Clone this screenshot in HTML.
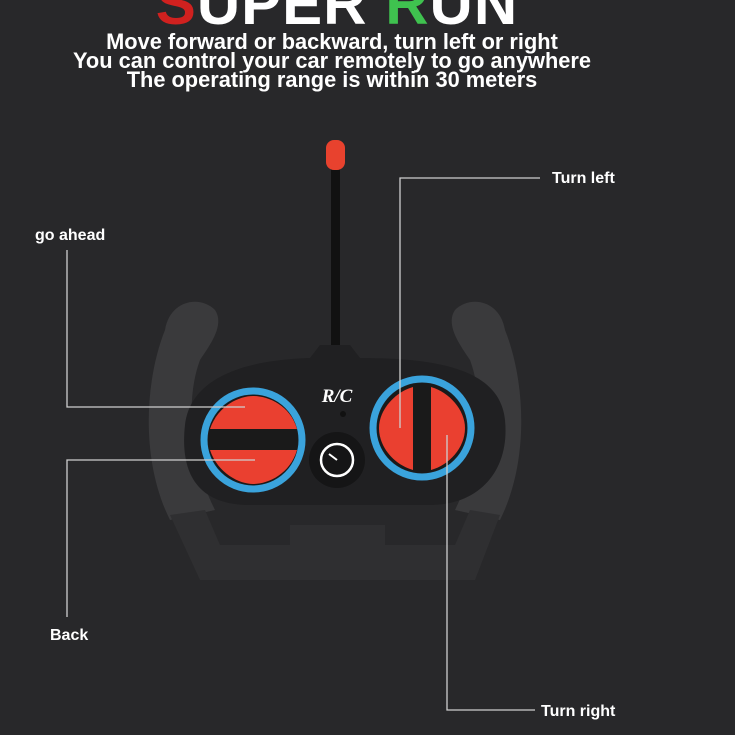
<!DOCTYPE html>
<html><head><style>
html,body{margin:0;padding:0;background:#28282a;}
svg{display:block;font-family:"Liberation Sans",sans-serif;}
</style></head><body>
<svg width="735" height="735" viewBox="0 0 735 735">
<rect width="735" height="735" fill="#28282a"/>
<text x="337" y="24" text-anchor="middle" font-size="60" font-weight="bold" fill="#fff" letter-spacing="1"><tspan fill="#d0211f">S</tspan>UPER <tspan fill="#3fc24f">R</tspan>UN</text>
<g font-size="21.8" font-weight="bold" fill="#fff" text-anchor="middle">
<text x="332" y="49">Move forward or backward, turn left or right</text>
<text x="332" y="68">You can control your car remotely to go anywhere</text>
<text x="332" y="87">The operating range is within 30 meters</text>
</g>
<!-- antenna -->
<rect x="331" y="165" width="9" height="190" rx="4" fill="#111"/>
<rect x="326" y="140" width="19" height="30" rx="8" fill="#e8422e"/>
<!-- handles -->
<path d="M165 330 C170 300 200 295 215 310 C225 325 210 345 200 360 C185 400 190 460 215 510 L170 520 C140 460 145 380 165 330Z" fill="#3a3a3c"/>
<path d="M505 330 C500 300 470 295 455 310 C445 325 460 345 470 360 C485 400 480 460 455 510 L500 520 C530 460 525 380 505 330Z" fill="#3a3a3c"/>
<path d="M170 515 L200 580 L475 580 L500 515 L470 510 L455 545 L385 545 L385 525 L290 525 L290 545 L220 545 L205 510Z" fill="#2f2f31"/>
<!-- body -->
<path d="M320 345 L350 345 L360 358 C440 358 500 370 505 420 C510 470 480 505 430 505 L250 505 C195 505 180 470 185 425 C190 380 240 360 310 358Z" fill="#202022"/>
<!-- left pad -->
<circle cx="253" cy="440" r="49" fill="none" stroke="#3aa3dc" stroke-width="7"/>
<circle cx="253" cy="440" r="45" fill="#1a1a1a"/>
<path d="M210 429 C218 405 240 396 253 396 C268 396 290 405 297 429Z" fill="#ea4030"/>
<path d="M210 450 C218 474 240 484 253 484 C268 484 290 474 297 450Z" fill="#ea4030"/>
<!-- right pad -->
<circle cx="422" cy="428" r="49" fill="none" stroke="#3aa3dc" stroke-width="7"/>
<circle cx="422" cy="428" r="45" fill="#1a1a1a"/>
<path d="M413 387 C395 392 379 410 379 428 C379 448 395 465 413 470Z" fill="#ea4030"/>
<path d="M431 387 C449 392 465 410 465 428 C465 448 449 465 431 470Z" fill="#ea4030"/>
<!-- gauge -->
<circle cx="337" cy="460" r="28" fill="#151516"/>
<circle cx="337" cy="460" r="16" fill="none" stroke="#fff" stroke-width="2.5"/>
<line x1="337" y1="460" x2="329" y2="454" stroke="#fff" stroke-width="2"/>
<circle cx="343" cy="414" r="3" fill="#111"/>
<text x="337" y="402" text-anchor="middle" font-family="Liberation Serif,serif" font-style="italic" font-weight="bold" font-size="19" fill="#fff">R/C</text>
<!-- callout lines -->
<g stroke="#cfcfcf" stroke-width="1.3" fill="none">
<polyline points="67,250 67,407 245,407"/>
<polyline points="255,460 67,460 67,617"/>
<polyline points="540,178 400,178 400,428"/>
<polyline points="447,435 447,710 535,710"/>
</g>
<g font-size="16" font-weight="bold" fill="#fff">
<text x="35" y="240">go ahead</text>
<text x="50" y="640">Back</text>
<text x="552" y="183">Turn left</text>
<text x="541" y="716">Turn right</text>
</g>
</svg>
</body></html>
